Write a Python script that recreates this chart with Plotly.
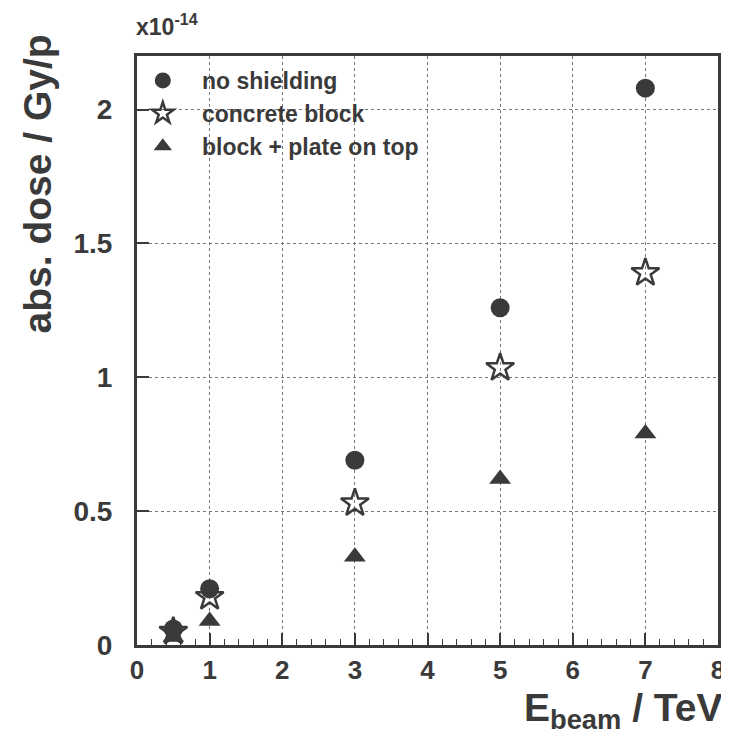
import plotly.graph_objects as go

energy = [0.5, 1, 3, 5, 7]
no_shielding = [0.06, 0.21, 0.69, 1.26, 2.08]
concrete_block = [0.05, 0.18, 0.53, 1.035, 1.39]
block_plate = [0.03, 0.09, 0.33, 0.62, 0.79]

series_names = ["no shielding", "concrete block", "block + plate on top"]
x_ticks = [0, 1, 2, 3, 4, 5, 6, 7, 8]
y_ticks = [0, 0.5, 1, 1.5, 2]
y_tick_labels = ["0", "0.5", "1", "1.5", "2"]

ink = "#3a3a3a"
font_family = "Liberation Sans, Arial, Helvetica, sans-serif"
pad = "\u00a0" * 3

fig = go.Figure()
fig.add_trace(go.Scatter(x=energy, y=no_shielding, mode="markers", name=pad + series_names[0],
                         marker=dict(symbol="circle", size=19, color=ink)))
fig.add_trace(go.Scatter(x=energy, y=concrete_block, mode="markers", name=pad + series_names[1],
                         marker=dict(symbol="star-open", size=21, color=ink, line=dict(width=2.5, color=ink))))
fig.add_trace(go.Scatter(x=energy, y=block_plate, mode="markers", name=pad + series_names[2],
                         marker=dict(symbol="triangle-up", size=19, color=ink)))

fig.update_layout(
    width=729, height=739,
    margin=dict(l=129, r=13, t=48, b=102),
    paper_bgcolor="white", plot_bgcolor="white",
    font=dict(family=font_family, color=ink),
    showlegend=True,
    legend=dict(x=0.01, y=0.995, xanchor="left", yanchor="top",
                bgcolor="rgba(0,0,0,0)", borderwidth=0,
                font=dict(size=23, family=font_family, color=ink, weight="bold"),
                itemsizing="trace", tracegroupgap=0),
    xaxis=dict(range=[0, 8], tickvals=x_ticks, ticks="inside", ticklen=12, tickwidth=1.5,
               tickcolor=ink, showline=True, linecolor=ink, linewidth=3, mirror=True,
               showgrid=True, gridcolor="#777", griddash="dot", gridwidth=1,
               zeroline=False,
               tickfont=dict(size=26, family=font_family, color=ink, weight="bold"),
               ticklabelstandoff=0,
               minor=dict(dtick=0.2, ticks="inside", ticklen=6, tickcolor=ink, tickwidth=1.2, showgrid=False)),
    yaxis=dict(range=[0, 2.2], tickvals=y_ticks, ticktext=y_tick_labels, ticks="inside", ticklen=12,
               tickwidth=1.5, tickcolor=ink, showline=True, linecolor=ink, linewidth=3, mirror=True,
               showgrid=True, gridcolor="#777", griddash="dot", gridwidth=1,
               zeroline=False,
               tickfont=dict(size=28, family=font_family, color=ink, weight="bold"),
               ticklabelstandoff=16),
)

fig.add_annotation(text="x10<sup>-14</sup>", xref="paper", yref="paper", x=0.0, y=1.0,
                   xanchor="left", yanchor="bottom", yshift=14, xshift=-3, showarrow=False,
                   font=dict(size=23, family=font_family, color=ink, weight="bold"))
fig.add_annotation(text="E<sub>beam</sub> / TeV", xref="paper", yref="paper", x=1.0, y=0,
                   xanchor="right", yanchor="bottom", yshift=-92, xshift=6, showarrow=False,
                   font=dict(size=39, family=font_family, color=ink, weight="bold"))
fig.add_annotation(text="abs. dose / Gy/p", xref="paper", yref="paper", x=0, y=1.04,
                   xanchor="right", yanchor="top", xshift=-76, textangle=-90, showarrow=False,
                   font=dict(size=39, family=font_family, color=ink, weight="bold"))

fig.write_html("out.html")
